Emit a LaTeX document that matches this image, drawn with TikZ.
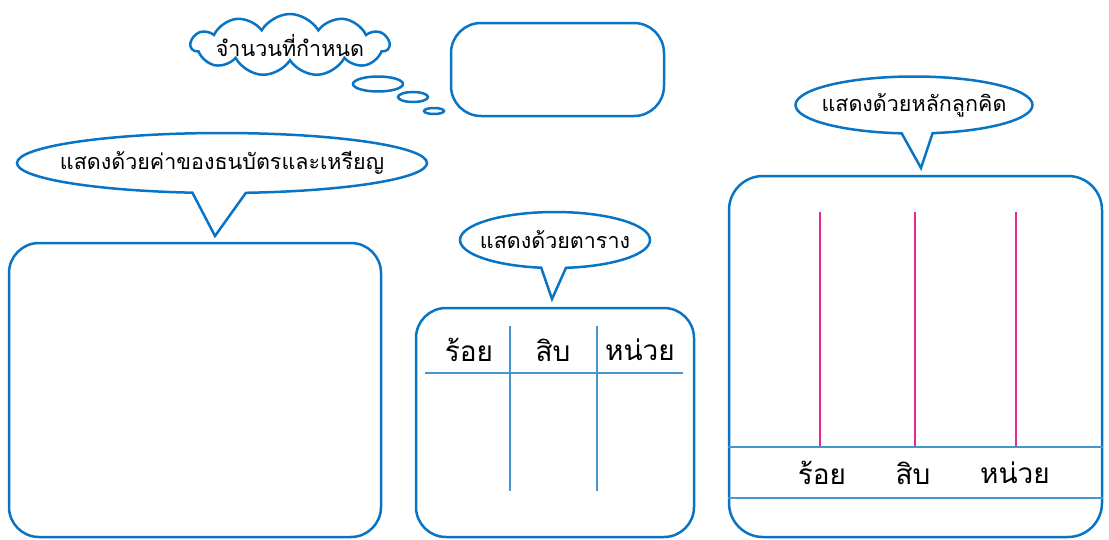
\documentclass[tikz,border=0pt]{standalone}
\usepackage{fontspec}
\newfontfamily\thaifont[Script=Thai]{Loma}
\usetikzlibrary{shapes.callouts,shapes.symbols,shapes.geometric}
\definecolor{bord}{RGB}{10,116,196}
\definecolor{tline}{RGB}{70,150,205}
\definecolor{mag}{RGB}{230,40,150}
\tikzset{
  bub/.style={ellipse callout, draw=bord, line width=2.5pt, fill=white, inner sep=0pt, callout pointer arc=15},
  btxt/.style={font=\thaifont\fontsize{21.5}{26}\selectfont, inner sep=0pt},
  rbox/.style={draw=bord, line width=2.5pt, rounded corners=30pt, inner sep=0pt},
  thought/.style={ellipse, draw=bord, line width=2.5pt, inner sep=0pt},
  tl/.style={draw=tline, line width=1.4pt},
  ml/.style={draw=mag, line width=1.2pt},
  big/.style={font=\thaifont\fontsize{28}{32}\selectfont, inner sep=0pt}
}
\begin{document}
\begin{tikzpicture}[x=1pt,y=-1pt]
\useasboundingbox (0,0) rectangle (1109,539);
% cloud
\node[cloud, cloud ignores aspect, cloud puffs=11, cloud puff arc=120, draw=bord, line width=2.5pt, minimum width=198, minimum height=62, inner sep=0pt] (cl) at (290,45) {};
\node[btxt] (clt) at (cl.center) {จำนวนที่กำหนด};
\node[thought, minimum width=50, minimum height=15] (t1) at (378,84) {};
\node[thought, minimum width=30, minimum height=10] (t2) at (413,97) {};
\node[thought, minimum width=20, minimum height=6] (t3) at (434,111) {};
% top empty box
\node[rbox, minimum width=213, minimum height=93] (topbox) at (557.5,69.5) {};
% boxes
\node[rbox, minimum width=372, minimum height=294] (lbox) at (195,390) {};
\node[rbox, minimum width=278, minimum height=229] (mbox) at (555,422.5) {};
\node[rbox, rounded corners=34pt, minimum width=373, minimum height=361] (rbx) at (915.5,356.5) {};
% bubbles
\node[bub, minimum width=410, minimum height=60, callout absolute pointer={(215,236)}] (lb) at (222,163) {};
\node[btxt] (lbt) at (lb.center) {แสดงด้วยค่าของธนบัตรและเหรียญ};
\node[bub, minimum width=190, minimum height=56, callout absolute pointer={(552,299)}] (mb) at (555,240) {};
\node[btxt] (mbt) at (mb.center) {แสดงด้วยตาราง};
\node[bub, minimum width=237, minimum height=57, callout absolute pointer={(921,168)}] (rb) at (914,105) {};
\node[btxt] (rbt) at (rb.center) {แสดงด้วยหลักลูกคิด};
% table
\coordinate (h1) at (425,373);
\coordinate (h2) at (683,373);
\coordinate (v1a) at (510,326);
\coordinate (v1b) at (510,491);
\coordinate (v2a) at (597,326);
\coordinate (v2b) at (597,491);
\draw[tl] (h1) -- (h2);
\draw[tl] (v1a) -- (v1b);
\draw[tl] (v2a) -- (v2b);
\node[big] (m1) at (469,350) {ร้อย};
\node[big] (m2) at (553,350) {สิบ};
\node[big] (m3) at (640,350) {หน่วย};
% abacus
\coordinate (a1) at (820,212); \coordinate (a1b) at (820,447);
\coordinate (a2) at (915,212); \coordinate (a2b) at (915,447);
\coordinate (a3) at (1016,212); \coordinate (a3b) at (1016,447);
\draw[ml] (a1) -- (a1b);
\draw[ml] (a2) -- (a2b);
\draw[ml] (a3) -- (a3b);
\draw[tl] (rbx.west |- 0,447) -- (rbx.east |- 0,447);
\draw[tl] (rbx.west |- 0,498) -- (rbx.east |- 0,498);
\node[big] (r1) at (822,473) {ร้อย};
\node[big] (r2) at (913,473) {สิบ};
\node[big] (r3) at (1015,473) {หน่วย};
\end{tikzpicture}
\end{document}
